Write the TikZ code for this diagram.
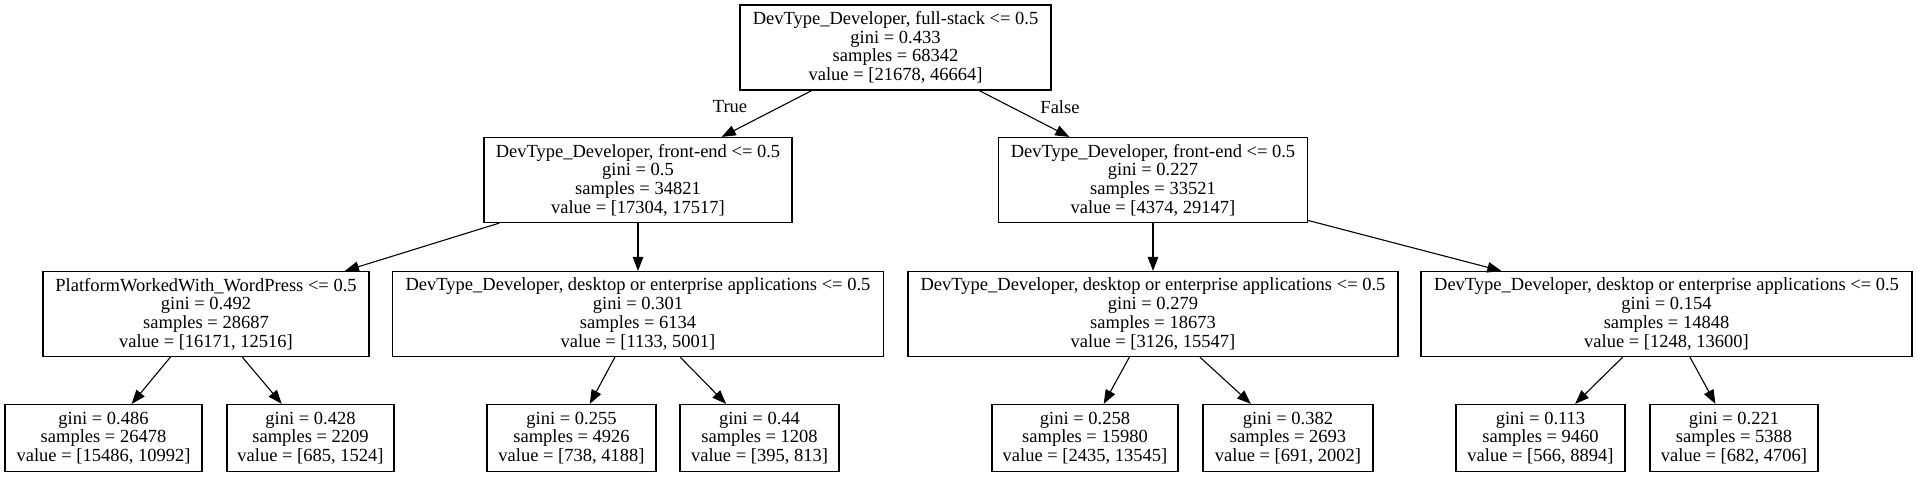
\documentclass[tikz,border=0pt]{standalone}
\usepackage{fontspec}
\setmainfont{Liberation Serif}
\usetikzlibrary{arrows.meta}
\tikzset{
  box/.style={draw=black, line width=1.2pt, fill=white, rectangle, align=center, inner sep=0pt,
    font=\fontsize{18.5}{18.7}\selectfont},
  inner4/.style={box, minimum height=85pt},
  leaf/.style={box, minimum height=67pt},
  edge/.style={line width=1.1pt, -{Triangle[length=14pt, width=10.5pt]}},
  lbl/.style={font=\fontsize{18.5}{18.7}\selectfont, inner sep=0pt}
}
\begin{document}
\begin{tikzpicture}[x=1pt, y=-1pt]
\useasboundingbox[fill=white] (0,0) rectangle (1918,477);
% root
\node[inner4, minimum width=311pt] (root) at (895.5,47.5)
  {DevType\_Developer, full-stack <= 0.5\\gini = 0.433\\samples = 68342\\value = [21678, 46664]};
% level 1
\node[inner4, minimum width=308pt] (l1a) at (638,180)
  {DevType\_Developer, front-end <= 0.5\\gini = 0.5\\samples = 34821\\value = [17304, 17517]};
\node[inner4, minimum width=309pt] (l1b) at (1153,180)
  {DevType\_Developer, front-end <= 0.5\\gini = 0.227\\samples = 33521\\value = [4374, 29147]};
% level 2
\node[inner4, minimum width=326pt] (l2a) at (206,314)
  {PlatformWorkedWith\_WordPress <= 0.5\\gini = 0.492\\samples = 28687\\value = [16171, 12516]};
\node[inner4, minimum width=491pt] (l2b) at (638,314)
  {DevType\_Developer, desktop or enterprise applications <= 0.5\\gini = 0.301\\samples = 6134\\value = [1133, 5001]};
\node[inner4, minimum width=490pt] (l2c) at (1153,314)
  {DevType\_Developer, desktop or enterprise applications <= 0.5\\gini = 0.279\\samples = 18673\\value = [3126, 15547]};
\node[inner4, minimum width=491pt] (l2d) at (1666.5,314)
  {DevType\_Developer, desktop or enterprise applications <= 0.5\\gini = 0.154\\samples = 14848\\value = [1248, 13600]};
% leaves
\node[leaf, minimum width=197pt] (a1) at (103.5,438) {gini = 0.486\\samples = 26478\\value = [15486, 10992]};
\node[leaf, minimum width=167pt] (a2) at (310.5,438) {gini = 0.428\\samples = 2209\\value = [685, 1524]};
\node[leaf, minimum width=169pt] (b1) at (571.5,438) {gini = 0.255\\samples = 4926\\value = [738, 4188]};
\node[leaf, minimum width=159pt] (b2) at (759.5,438) {gini = 0.44\\samples = 1208\\value = [395, 813]};
\node[leaf, minimum width=186pt] (c1) at (1085,438) {gini = 0.258\\samples = 15980\\value = [2435, 13545]};
\node[leaf, minimum width=170pt] (c2) at (1288,438) {gini = 0.382\\samples = 2693\\value = [691, 2002]};
\node[leaf, minimum width=169pt] (d1) at (1540.5,438) {gini = 0.113\\samples = 9460\\value = [566, 8894]};
\node[leaf, minimum width=168pt] (d2) at (1734,438) {gini = 0.221\\samples = 5388\\value = [682, 4706]};
% edges
\draw[edge] (root) -- (l1a);
\draw[edge] (root) -- (l1b);
\draw[edge] (l1a) -- (l2a);
\draw[edge] (l1a) -- (l2b);
\draw[edge] (l1b) -- (l2c);
\draw[edge] (l1b) -- (l2d);
\draw[edge] (l2a) -- (a1);
\draw[edge] (l2a) -- (a2);
\draw[edge] (l2b) -- (b1);
\draw[edge] (l2b) -- (b2);
\draw[edge] (l2c) -- (c1);
\draw[edge] (l2c) -- (c2);
\draw[edge] (l2d) -- (d1);
\draw[edge] (l2d) -- (d2);
% edge labels
\node[lbl] (truelbl) at (730,107) {True};
\node[lbl] (falselbl) at (1060,107) {False};
\end{tikzpicture}
\end{document}
